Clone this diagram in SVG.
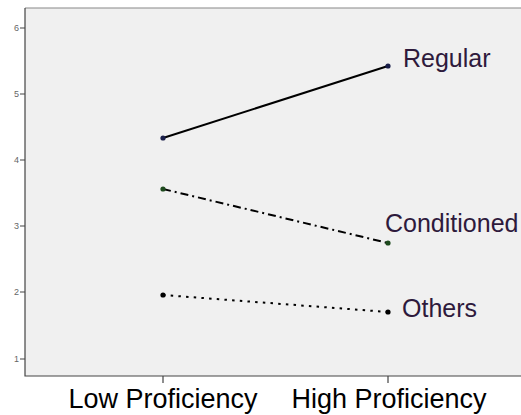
<svg xmlns="http://www.w3.org/2000/svg" width="521" height="415" viewBox="0 0 521 415">
<style>
.tick{font-family:"Liberation Sans",Arial,sans-serif;font-size:9px;fill:#666;text-anchor:end}
.axis{stroke:#444;stroke-width:1.2;fill:none}
.xl{font-family:"Liberation Sans",Arial,sans-serif;font-size:27px;fill:#000;text-anchor:middle}
.sl{font-family:"Liberation Sans",Arial,sans-serif;font-size:25px;fill:#2e1a3c}
.ln{fill:none;stroke:#000;stroke-width:2}
</style>
<rect x="0" y="0" width="521" height="415" fill="#fff"/>
<rect x="25" y="8" width="496" height="368" fill="#f0f0f0"/>
<line x1="25" y1="8" x2="521" y2="8" stroke="#888" stroke-width="1.2"/>
<g id="axes">
<path class="axis" d="M25 8V376H521"/>
<path class="axis" d="M20 28H25M20 94H25M20 160H25M20 226H25M20 292H25M20 359H25M163 376V383M388 376V383"/>
<text class="tick" x="19" y="31">6</text>
<text class="tick" x="19" y="97">5</text>
<text class="tick" x="19" y="163">4</text>
<text class="tick" x="19" y="229">3</text>
<text class="tick" x="19" y="295">2</text>
<text class="tick" x="19" y="362">1</text>
<text class="xl" x="163" y="408">Low Proficiency</text>
<text class="xl" x="389" y="408">High Proficiency</text>
</g>
<g id="connectors">
<line class="ln" x1="163" y1="138" x2="388" y2="66"/>
<line class="ln" x1="163" y1="189" x2="388" y2="243" stroke-dasharray="8 4 2 4"/>
<line class="ln" x1="163" y1="295" x2="388" y2="312" stroke-dasharray="2.5 5.2"/>
</g>
<g id="regular">
<circle cx="163" cy="138" r="2.6" fill="#1a1f4a"/>
<circle cx="388" cy="66" r="2.6" fill="#1a1f4a"/>
<text class="sl" x="403" y="67">Regular</text>
</g>
<g id="conditioned">
<circle cx="163" cy="189" r="2.6" fill="#1d4a1d"/>
<circle cx="388" cy="243" r="2.6" fill="#1d4a1d"/>
<text class="sl" x="385" y="232">Conditioned</text>
</g>
<g id="others">
<circle cx="163" cy="295" r="2.6" fill="#000"/>
<circle cx="388" cy="312" r="2.6" fill="#000"/>
<text class="sl" x="402" y="317">Others</text>
</g>
</svg>
